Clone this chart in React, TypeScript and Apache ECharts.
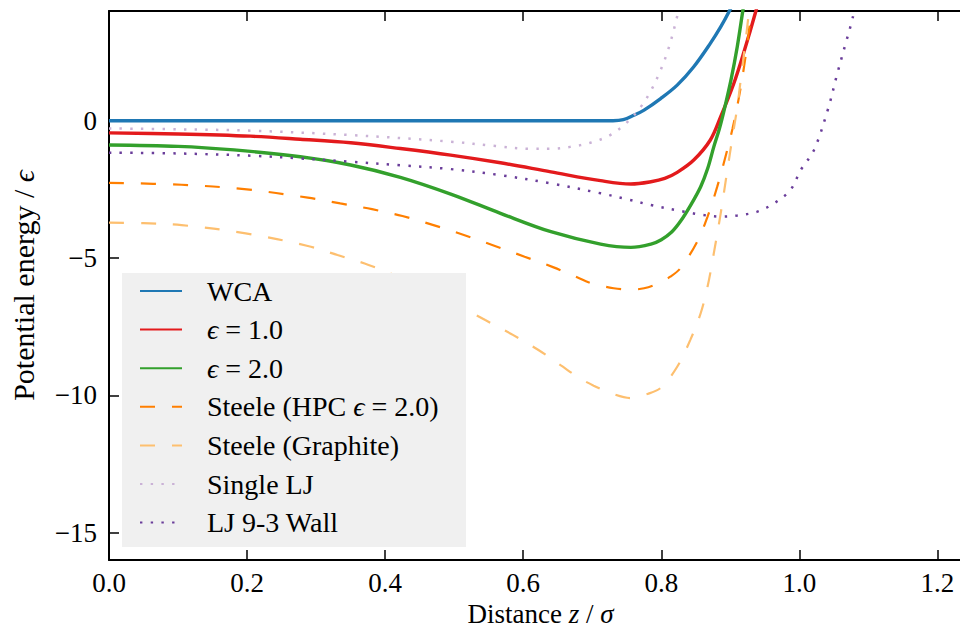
import React, { useEffect, useRef } from "react";
import * as echarts from "echarts";

const xTicks = [0, 0.2, 0.4, 0.6, 0.8, 1.0, 1.2];
const yTicks = [-15, -10, -5, 0];

const seriesNames = [
  "WCA",
  "ϵ = 1.0",
  "ϵ = 2.0",
  "Steele (HPC ϵ = 2.0)",
  "Steele (Graphite)",
  "Single LJ",
  "LJ 9-3 Wall",
];

const wca = [
  [0, 0], [0.2, 0], [0.4, 0], [0.6, 0], [0.7, 0], [0.73, 0], [0.745, 0.04], [0.76, 0.2],
  [0.775, 0.39], [0.799, 0.81], [0.823, 1.3], [0.847, 1.97], [0.871, 2.82], [0.886, 3.42],
  [0.898, 3.97], [0.91, 4.6],
];

const eps1 = [
  [0, -0.44], [0.1, -0.48], [0.205, -0.56], [0.277, -0.67], [0.35, -0.8], [0.422, -1.01],
  [0.495, -1.25], [0.567, -1.53], [0.64, -1.86], [0.712, -2.18], [0.756, -2.3], [0.785, -2.22],
  [0.805, -2.1], [0.823, -1.88], [0.847, -1.43], [0.871, -0.7], [0.886, 0.15],
  [0.905, 1.36], [0.919, 2.45], [0.937, 4.0], [0.945, 4.8],
];

const eps2 = [
  [0, -0.88], [0.1, -0.93], [0.181, -1.06], [0.277, -1.31], [0.35, -1.61], [0.422, -2.06],
  [0.495, -2.67], [0.567, -3.37], [0.64, -4.04], [0.712, -4.49], [0.756, -4.61], [0.785, -4.49],
  [0.8, -4.33], [0.815, -4.05], [0.828, -3.65], [0.843, -3.05], [0.857, -2.4],
  [0.867, -1.75], [0.876, -0.95], [0.884, -0.3], [0.891, 0.39], [0.901, 1.5], [0.91, 2.7],
  [0.918, 4.0], [0.923, 4.8],
];

const steeleHpc = [
  [0, -2.26], [0.105, -2.33], [0.196, -2.49], [0.288, -2.8], [0.335, -3.01], [0.381, -3.22],
  [0.425, -3.47], [0.47, -3.8], [0.514, -4.16], [0.559, -4.56], [0.602, -4.95], [0.644, -5.34],
  [0.678, -5.7], [0.7, -5.93], [0.731, -6.1], [0.755, -6.15], [0.775, -6.1], [0.795, -5.93],
  [0.813, -5.68], [0.828, -5.36], [0.852, -4.4], [0.867, -3.49], [0.881, -2.4], [0.893, -1.3],
  [0.903, -0.3], [0.912, 0.8], [0.92, 2.0], [0.927, 3.3], [0.933, 4.5],
];

const steeleGraphite = [
  [0, -3.71], [0.05, -3.73], [0.105, -3.8], [0.198, -4.1], [0.288, -4.56], [0.331, -4.89],
  [0.376, -5.25], [0.419, -5.68], [0.461, -6.16], [0.505, -6.71], [0.545, -7.26], [0.585, -7.8],
  [0.622, -8.35], [0.654, -8.9], [0.68, -9.35], [0.702, -9.65], [0.73, -9.95], [0.756, -10.1],
  [0.78, -9.95], [0.799, -9.73], [0.823, -8.96], [0.842, -7.98], [0.857, -7.01], [0.867, -6.04],
  [0.876, -4.83], [0.886, -3.37], [0.895, -1.9], [0.903, -0.6], [0.91, 0.5], [0.916, 1.7],
  [0.922, 2.9], [0.928, 4.2],
];

const singleLj = [
  [0, -0.28], [0.1, -0.31], [0.205, -0.36], [0.35, -0.52], [0.495, -0.76], [0.56, -0.92],
  [0.61, -1.02], [0.64, -1.02], [0.668, -0.95], [0.697, -0.8], [0.726, -0.52], [0.751, -0.04],
  [0.77, 0.5], [0.785, 1.1], [0.799, 1.85], [0.81, 2.6], [0.821, 3.6], [0.828, 4.4],
];

const ljWall = [
  [0, -1.16], [0.1, -1.19], [0.205, -1.27], [0.277, -1.37], [0.35, -1.49], [0.422, -1.62],
  [0.495, -1.76], [0.567, -1.98], [0.64, -2.28], [0.712, -2.64], [0.751, -2.86], [0.785, -3.07],
  [0.833, -3.31], [0.86, -3.43], [0.886, -3.49], [0.91, -3.45], [0.939, -3.31],
  [0.963, -3.01], [0.987, -2.52], [1.002, -1.79], [1.021, -1.07], [1.041, 0.39], [1.055, 1.73],
  [1.067, 2.82], [1.077, 3.73], [1.083, 4.5],
];

const FONT = "Liberation Serif, DejaVu Serif, serif";

export default function App() {
  const ref = useRef<HTMLDivElement>(null);
  useEffect(() => {
    const chart = echarts.init(ref.current as HTMLDivElement, null, { renderer: "svg" });
    const solid = (w: number) => ({ width: w, type: "solid" as const });
    const dashed = { width: 2.2, type: [15, 17] as any };
    const dotted = { width: 2.5, type: [2.4, 8.3] as any };
    const mk = (name: string, data: number[][], color: string, ls: any) => ({
      type: "line",
      name,
      data,
      showSymbol: false,
      symbol: "none",
      smooth: 0.35,
      clip: true,
      color,
      itemStyle: { color, opacity: 0 },
      lineStyle: { ...ls, color },
      z: 2,
    });
    const option: any = {
      animation: false,
      backgroundColor: "#ffffff",
      grid: {
        left: 109,
        top: 11,
        right: -12,
        bottom: 70,
        containLabel: false,
        outerBoundsMode: "none",
      },
      xAxis: [
        {
          type: "value",
          min: 0,
          max: 1.25,
          position: "bottom",
          name: "{a|Distance }{i|z}{a| / }{i|σ}",
          nameLocation: "middle",
          nameGap: 42,
          nameTextStyle: {
            lineHeight: 22,
            rich: {
              a: { fontFamily: FONT, fontSize: 27, lineHeight: 22, color: "#000" },
              i: { fontFamily: FONT, fontSize: 27, lineHeight: 22, fontStyle: "italic", color: "#000" },
            },
          },
          axisLine: { show: true, onZero: false, lineStyle: { color: "#000", width: 2 } },
          axisTick: { show: true, inside: true, length: 10, customValues: xTicks, lineStyle: { color: "#000", width: 1.5 } },
          axisLabel: {
            show: true,
            customValues: xTicks,
            margin: 9,
            fontFamily: FONT,
            fontSize: 27,
            color: "#000",
            formatter: (v: number) => v.toFixed(1),
          },
          splitLine: { show: false },
        },
        {
          type: "value",
          min: 0,
          max: 1.25,
          position: "top",
          axisLine: { show: true, onZero: false, lineStyle: { color: "#000", width: 2 } },
          axisTick: { show: true, inside: true, length: 10, customValues: xTicks, lineStyle: { color: "#000", width: 1.5 } },
          axisLabel: { show: false },
          splitLine: { show: false },
        },
      ],
      yAxis: [
        {
          type: "value",
          min: -16,
          max: 4,
          position: "left",
          name: "{a|Potential energy / }{e|ϵ}",
          nameLocation: "middle",
          nameGap: 71,
          nameRotate: 90,
          nameTextStyle: {
            rich: {
              a: { fontFamily: FONT, fontSize: 30, color: "#000" },
              e: { fontFamily: FONT, fontSize: 30, fontStyle: "italic", color: "#000" },
            },
          },
          axisLine: { show: true, onZero: false, lineStyle: { color: "#000", width: 2 } },
          axisTick: { show: true, inside: true, length: 10, customValues: yTicks, lineStyle: { color: "#000", width: 1.5 } },
          axisLabel: {
            show: true,
            customValues: yTicks,
            margin: 12,
            fontFamily: FONT,
            fontSize: 27,
            color: "#000",
            formatter: (v: number) => (v < 0 ? "\u2212" + String(Math.abs(v)) : String(v)),
          },
          splitLine: { show: false },
        },
        {
          type: "value",
          min: -16,
          max: 4,
          position: "right",
          axisLine: { show: true, onZero: false, lineStyle: { color: "#000", width: 2 } },
          axisTick: { show: true, inside: true, length: 10, customValues: yTicks, lineStyle: { color: "#000", width: 1.5 } },
          axisLabel: { show: false },
          splitLine: { show: false },
        },
      ],
      graphic: [
        {
          type: "rect",
          shape: { x: 122, y: 273, width: 344, height: 274 },
          style: { fill: "#f0f0f0" },
          z: 3,
          silent: true,
        },
      ],
      legend: {
        show: true,
        orient: "vertical",
        left: 139,
        top: 277,
        padding: 0,
        itemWidth: 42,
        itemHeight: 14,
        itemGap: 10.6,
        selectedMode: false,
        z: 5,
        data: seriesNames,
        itemStyle: { opacity: 0 },
        formatter: (name: string) => name.replace("ϵ", "{e|ϵ}"),
        textStyle: {
          fontFamily: FONT,
          fontSize: 28,
          lineHeight: 26,
          color: "#000",
          padding: [0, 0, 0, 20],
          rich: {
            e: { fontFamily: FONT, fontSize: 28, fontStyle: "italic", color: "#000" },
          },
        },
      },
      series: [
        mk(seriesNames[0], wca, "#1f78b4", solid(3.4)),
        mk(seriesNames[1], eps1, "#e31a1c", solid(3.4)),
        mk(seriesNames[2], eps2, "#33a02c", solid(3.4)),
        mk(seriesNames[3], steeleHpc, "#ff7f00", dashed),
        mk(seriesNames[4], steeleGraphite, "#fdbf6f", dashed),
        mk(seriesNames[5], singleLj, "#cab2d6", dotted),
        mk(seriesNames[6], ljWall, "#6a3d9a", dotted),
      ],
    };
    chart.setOption(option);
    return () => chart.dispose();
  }, []);
  return (
    <div
      ref={ref}
      style={{ position: "fixed", left: 0, top: 0, width: 960, height: 630 }}
    />
  );
}
